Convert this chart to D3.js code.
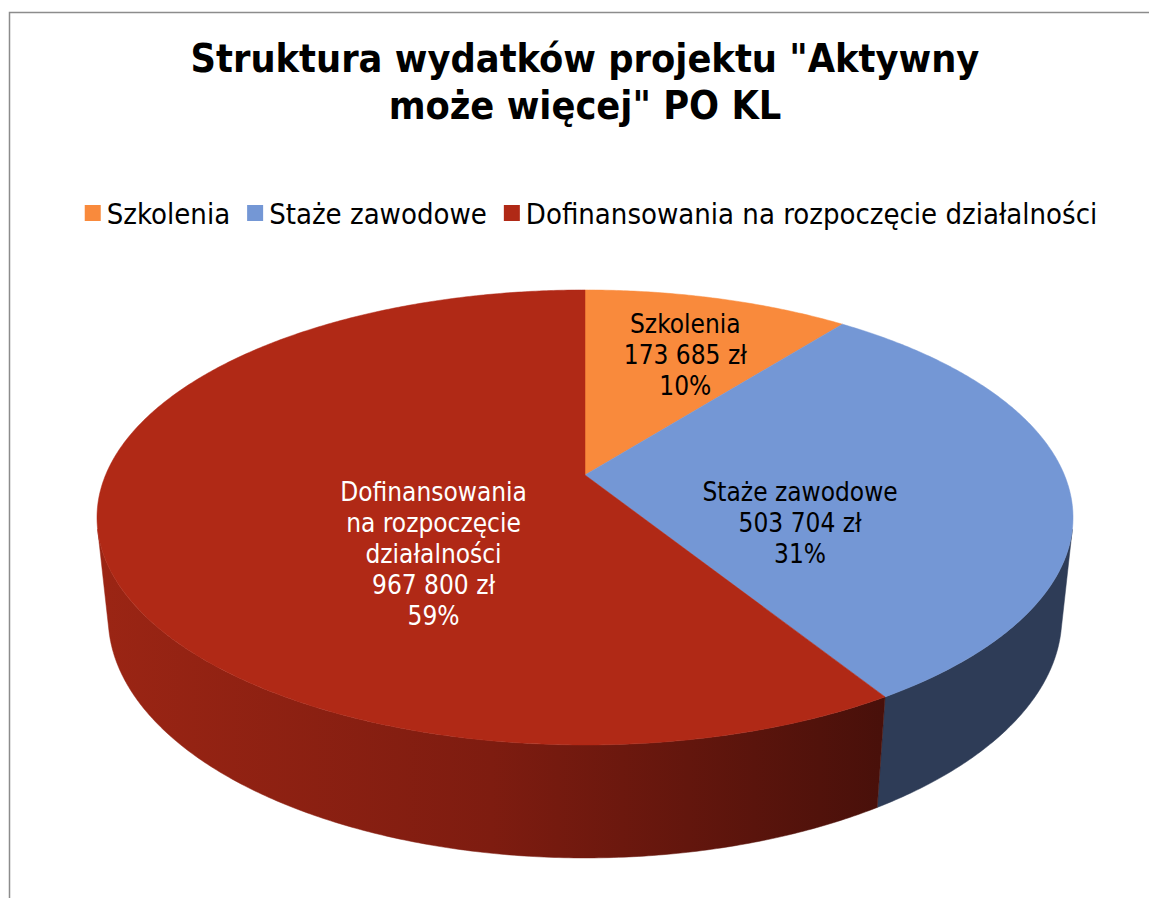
<!DOCTYPE html>
<html>
<head>
<meta charset="utf-8">
<script src="https://cdn.jsdelivr.net/npm/d3@7"></script>
<style>
  body { margin: 0; background: #fff; }
  text { font-family: "DejaVu Sans Condensed", "DejaVu Sans", sans-serif; }
</style>
</head>
<body>
<script>
const categories = ["Szkolenia", "Staże zawodowe", "Dofinansowania na rozpoczęcie działalności"]
const amounts = [173685, 503704, 967800]
const shares = [10, 31, 59]          // percentages as printed on the chart
const titleLines = ["Struktura wydatków projektu \"Aktywny", "może więcej\" PO KL"]

const topColors = ["#F98A3C", "#7497D5", "#B02916"]
const sideColors = ["#8a4516", "#2E3C57", "url(#redSide)"]
const labelColors = ["#000", "#000", "#fff"]

const width = 1149
const height = 898

// perspective camera fitted to the picture
const cam = { x0: 585, y0: 475, f: 2283, dist: 4.762, tilt: Math.asin(0.458), thick: 0.236 }

function project(r, a, h) {
    const x = r * Math.sin(a), z = -r * Math.cos(a), y = h
    const s = Math.sin(cam.tilt), c = Math.cos(cam.tilt)
    const cy = y * c - z * s
    const dep = cam.dist - y * s - z * c
    return [cam.x0 + cam.f * x / dep, cam.y0 - cam.f * cy / dep]
}

function arcPoints(a0, a1, h) {
    const n = Math.max(2, Math.ceil((a1 - a0) / (Math.PI / 360)) + 1)
    return d3.range(n).map(i => project(1, a0 + (a1 - a0) * i / (n - 1), h))
}

const svg = d3.select("body").append("svg")
    .attr("width", width)
    .attr("height", height)

const defs = svg.append("defs")
const grad = defs.append("linearGradient")
    .attr("id", "redSide")
    .attr("gradientUnits", "userSpaceOnUse")
    .attr("x1", 98).attr("x2", 885).attr("y1", 0).attr("y2", 0)
grad.append("stop").attr("offset", 0).attr("stop-color", "#9B2514")
grad.append("stop").attr("offset", 0.5).attr("stop-color", "#7E1C10")
grad.append("stop").attr("offset", 1).attr("stop-color", "#48100A")

// chart border
svg.append("rect")
    .attr("x", 9.5).attr("y", 12.5)
    .attr("width", 1300).attr("height", 1000)
    .attr("fill", "none")
    .attr("stroke", "#8c8c8c")
    .attr("stroke-width", 1.5)

// title
svg.append("text")
    .attr("x", 585)
    .attr("y", 72)
    .attr("text-anchor", "middle")
    .attr("font-size", 39.3)
    .attr("font-weight", "bold")
    .selectAll("tspan")
    .data(titleLines).enter()
    .append("tspan")
        .attr("x", 585)
        .attr("dy", (d, i) => i == 0 ? 0 : 47)
        .text(d => d)

// legend
let legend = svg.append("g").attr("font-size", 29)
let items = legend.selectAll("g")
    .data(categories).enter()
    .append("g")
items.append("rect")
    .attr("y", -19).attr("width", 16).attr("height", 16)
    .attr("fill", (d, i) => topColors[i])
items.append("text")
    .attr("x", 22)
    .text(d => d)
let lx = 0
items.each(function () {
    let g = d3.select(this)
    g.attr("transform", "translate(" + lx + ",0)")
    lx += 22 + g.select("text").node().getComputedTextLength() + 17
})
lx -= 17
legend.attr("transform", "translate(" + (591 - lx / 2) + ",224)")

// pie
const slices = d3.pie().sort(null).value(d => d)(amounts)
const wallMin = Math.acos(-1 / (cam.dist * Math.cos(cam.tilt)))
const wallMax = 2 * Math.PI - wallMin
const line = d3.line()

let walls = svg.append("g")
slices.forEach((s, i) => {
    const a0 = Math.max(s.startAngle, wallMin)
    const a1 = Math.min(s.endAngle, wallMax)
    if (a1 <= a0) return
    const topEdge = arcPoints(a0, a1, 0)
    const bottomEdge = arcPoints(a0, a1, -cam.thick).reverse()
    walls.append("path")
        .attr("d", line(topEdge.concat(bottomEdge)) + "Z")
        .attr("fill", sideColors[i])
        .attr("stroke", sideColors[i])
        .attr("stroke-width", 0.5)
})

let tops = svg.append("g")
tops.selectAll("path")
    .data(slices).enter()
    .append("path")
        .attr("d", s => line([project(0, 0, 0)].concat(arcPoints(s.startAngle, s.endAngle, 0))) + "Z")
        .attr("fill", (s, i) => topColors[i])
        .attr("stroke", (s, i) => topColors[i])
        .attr("stroke-width", 0.5)

// data labels: [radius, angle shift in degrees] where Excel put them
const labelSpot = [[0.65, 2], [0.48, 23], [0.45, -33]]
const fmt = d3.formatLocale({ decimal: ",", thousands: " ", grouping: [3], currency: ["", " zł"] }).format("$,.0f")

function wrap(words, maxW, probe) {
    let lines = [], cur = ""
    words.forEach(w => {
        let test = cur ? cur + " " + w : w
        probe.text(test)
        if (cur && probe.node().getComputedTextLength() > maxW) {
            lines.push(cur)
            cur = w
        } else cur = test
    })
    lines.push(cur)
    return lines
}

let labels = svg.append("g").attr("font-size", 26).attr("text-anchor", "middle")
slices.forEach((s, i) => {
    const mid = (s.startAngle + s.endAngle) / 2 + labelSpot[i][1] * Math.PI / 180
    const p = project(labelSpot[i][0], mid, 0)
    let t = labels.append("text").attr("fill", labelColors[i])
    let lines = wrap(categories[i].split(" "), 210, t)
    lines.push(fmt(amounts[i]), shares[i] + "%")
    t.text(null)
    const step = 31
    const y0 = p[1] + 9 - step * (lines.length - 1) / 2
    t.selectAll("tspan")
        .data(lines).enter()
        .append("tspan")
            .attr("x", p[0])
            .attr("y", (d, k) => y0 + k * step)
            .text(d => d)
})
</script>
</body>
</html>
